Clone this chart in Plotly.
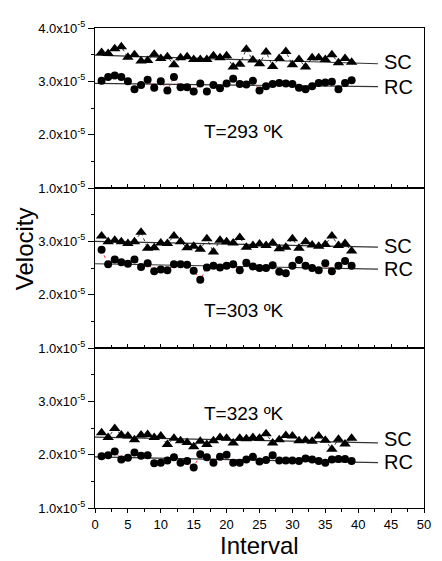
import plotly.graph_objects as go
from plotly.subplots import make_subplots

SCALE = 1e-5
intervals = list(range(1, 40))

# values in units of 1e-5
sc_293 = [3.54, 3.52, 3.61, 3.65, 3.45, 3.50, 3.38, 3.39, 3.51, 3.43, 3.46, 3.31, 3.44,
          3.46, 3.41, 3.41, 3.41, 3.48, 3.44, 3.48, 3.27, 3.32, 3.60, 3.40, 3.33, 3.55,
          3.28, 3.43, 3.56, 3.31, 3.41, 3.27, 3.44, 3.44, 3.41, 3.50, 3.35, 3.43, 3.36]
rc_293 = [3.01, 3.08, 3.11, 3.08, 3.00, 2.85, 2.93, 3.03, 2.88, 3.00, 2.83, 3.08, 2.89,
          2.89, 2.81, 2.96, 2.81, 2.93, 2.87, 2.96, 3.05, 2.95, 2.94, 3.01, 2.83, 2.91,
          2.95, 2.97, 2.96, 2.95, 2.88, 2.85, 2.91, 2.97, 2.98, 2.99, 2.85, 2.97, 3.02]
sc_303 = [3.10, 2.99, 3.02, 2.99, 2.96, 2.99, 3.17, 2.87, 2.88, 2.97, 2.96, 3.10, 2.99,
          2.88, 2.91, 2.85, 3.05, 2.80, 3.02, 2.99, 2.97, 3.07, 2.89, 2.92, 2.95, 2.92,
          2.97, 2.86, 2.89, 3.05, 2.87, 2.99, 2.93, 2.91, 2.94, 3.10, 2.92, 2.96, 2.82]
rc_303 = [2.84, 2.57, 2.66, 2.61, 2.58, 2.66, 2.52, 2.59, 2.44, 2.47, 2.46, 2.57, 2.57,
          2.56, 2.45, 2.28, 2.51, 2.54, 2.51, 2.54, 2.57, 2.46, 2.60, 2.53, 2.50, 2.50,
          2.55, 2.43, 2.40, 2.54, 2.65, 2.54, 2.50, 2.46, 2.59, 2.44, 2.54, 2.63, 2.54]
sc_323 = [2.41, 2.32, 2.49, 2.37, 2.35, 2.28, 2.37, 2.38, 2.32, 2.35, 2.19, 2.31, 2.26,
          2.23, 2.15, 2.25, 2.19, 2.26, 2.32, 2.31, 2.22, 2.31, 2.30, 2.32, 2.31, 2.39,
          2.22, 2.28, 2.36, 2.35, 2.26, 2.27, 2.25, 2.35, 2.27, 2.10, 2.29, 2.20, 2.31]
rc_323 = [1.97, 1.99, 2.06, 1.91, 1.94, 2.04, 1.98, 1.99, 1.84, 1.85, 1.89, 1.95, 1.85,
          1.88, 1.76, 2.01, 1.95, 1.85, 1.96, 2.00, 1.85, 1.85, 1.91, 1.96, 1.87, 1.90,
          1.99, 1.89, 1.89, 1.89, 1.88, 1.93, 1.91, 1.88, 1.85, 1.91, 1.92, 1.92, 1.88]

# fitted line end values (start at x=0, end at x=43)
fit_x = [0, 43]
fit_sc_293 = [3.49, 3.33]
fit_rc_293 = [2.96, 2.90]
fit_sc_303 = [3.00, 2.89]
fit_rc_303 = [2.58, 2.48]
fit_sc_323 = [2.33, 2.22]
fit_rc_323 = [1.96, 1.85]

temps = ["T=293 ºK", "T=303 ºK", "T=323 ºK"]
temp_pos = [(22.6, 2.06), (22.6, 1.71), (22.6, 2.78)]
lab_sc_y = [3.36, 2.92, 2.30]
lab_rc_y = [2.90, 2.49, 1.86]

x_ticks = list(range(0, 51, 5))
y_major = [1.0, 2.0, 3.0, 4.0]

panels = [
    (sc_293, rc_293, fit_sc_293, fit_rc_293),
    (sc_303, rc_303, fit_sc_303, fit_rc_303),
    (sc_323, rc_323, fit_sc_323, fit_rc_323),
]

FONT = "Liberation Sans, Arial, sans-serif"
OFF = 8  # default page body margin
W, H = 442 - OFF, 561 - OFF
ML, MR, MT, MB = 95 - OFF, 11, 23 - OFF, 53
PW, PH = W - ML - MR, H - MT - MB


def px_to_paper(px, py):
    return (px - OFF - ML) / PW, 1 - (py - OFF - MT) / PH


fig = make_subplots(rows=3, cols=1, shared_xaxes=True, vertical_spacing=0)

for i, (sc, rc, fsc, frc) in enumerate(panels):
    row = i + 1
    fig.add_trace(go.Scatter(x=fit_x, y=[v * SCALE for v in fsc], mode="lines",
                             line=dict(color="#333333", width=1.2), showlegend=False),
                  row=row, col=1)
    fig.add_trace(go.Scatter(x=fit_x, y=[v * SCALE for v in frc], mode="lines",
                             line=dict(color="#333333", width=1.2), showlegend=False),
                  row=row, col=1)
    fig.add_trace(go.Scatter(x=intervals, y=[v * SCALE for v in sc], mode="lines+markers",
                             line=dict(color="black", width=0.8, dash="dot"),
                             marker=dict(symbol="triangle-up", size=10, color="black"),
                             showlegend=False), row=row, col=1)
    fig.add_trace(go.Scatter(x=intervals, y=[v * SCALE for v in rc], mode="lines+markers",
                             line=dict(color="red", width=0.8, dash="dot"),
                             marker=dict(symbol="circle", size=8, color="black"),
                             showlegend=False), row=row, col=1)

    if i == 0:
        labels = ["%.1fx10<sup>-5</sup>" % v for v in y_major]
    else:
        labels = ["%.1fx10<sup>-5</sup>" % v if v < 4 else "" for v in y_major]
    fig.update_yaxes(range=[1.0 * SCALE, 4.0 * SCALE],
                     tickvals=[v * SCALE for v in y_major], ticktext=labels,
                     ticks="outside", ticklen=6, tickwidth=1, tickcolor="black",
                     minor=dict(dtick=0.5 * SCALE, tick0=0, ticks="outside", ticklen=3,
                                tickcolor="black"),
                     showline=True, linecolor="black", linewidth=1.2, mirror=True,
                     showgrid=False, zeroline=False,
                     tickfont=dict(family=FONT, size=13, color="black"),
                     row=row, col=1)
    fig.update_xaxes(range=[0, 50], tickvals=x_ticks,
                     ticks="outside" if i == 2 else "inside", ticklen=4, tickwidth=1,
                     tickcolor="black",
                     minor=dict(dtick=2.5, ticks="outside" if i == 2 else "inside",
                                ticklen=3, tickcolor="black"),
                     showticklabels=(i == 2),
                     showline=True, linecolor="black", linewidth=1.2, mirror=True,
                     showgrid=False, zeroline=False,
                     tickfont=dict(family=FONT, size=13, color="black"),
                     row=row, col=1)

    xref = "x" if i == 0 else "x%d" % row
    yref = "y" if i == 0 else "y%d" % row
    tx, ty = temp_pos[i]
    fig.add_annotation(x=tx, y=ty * SCALE, xref=xref, yref=yref, text=temps[i],
                       showarrow=False, font=dict(family=FONT, size=19, color="black"))
    fig.add_annotation(x=43.6, y=lab_sc_y[i] * SCALE, xref=xref, yref=yref, text="SC",
                       xanchor="left", showarrow=False,
                       font=dict(family=FONT, size=20, color="black"))
    fig.add_annotation(x=43.6, y=lab_rc_y[i] * SCALE, xref=xref, yref=yref, text="RC",
                       xanchor="left", showarrow=False,
                       font=dict(family=FONT, size=20, color="black"))

vx, vy = px_to_paper(23, 246)
fig.add_annotation(x=vx, y=vy, xref="paper", yref="paper",
                   xanchor="center", yanchor="middle", text="Velocity", textangle=-90,
                   showarrow=False, font=dict(family=FONT, size=24, color="black"))
ix, iy = px_to_paper(263, 546)
fig.add_annotation(x=ix, y=iy, xref="paper", yref="paper",
                   xanchor="center", yanchor="middle", text="Interval",
                   showarrow=False, font=dict(family=FONT, size=24, color="black"))

fig.update_layout(width=W, height=H, margin=dict(l=ML, r=MR, t=MT, b=MB),
                  plot_bgcolor="white", paper_bgcolor="white",
                  font=dict(family=FONT, color="black"))

fig.write_html("out.html")
